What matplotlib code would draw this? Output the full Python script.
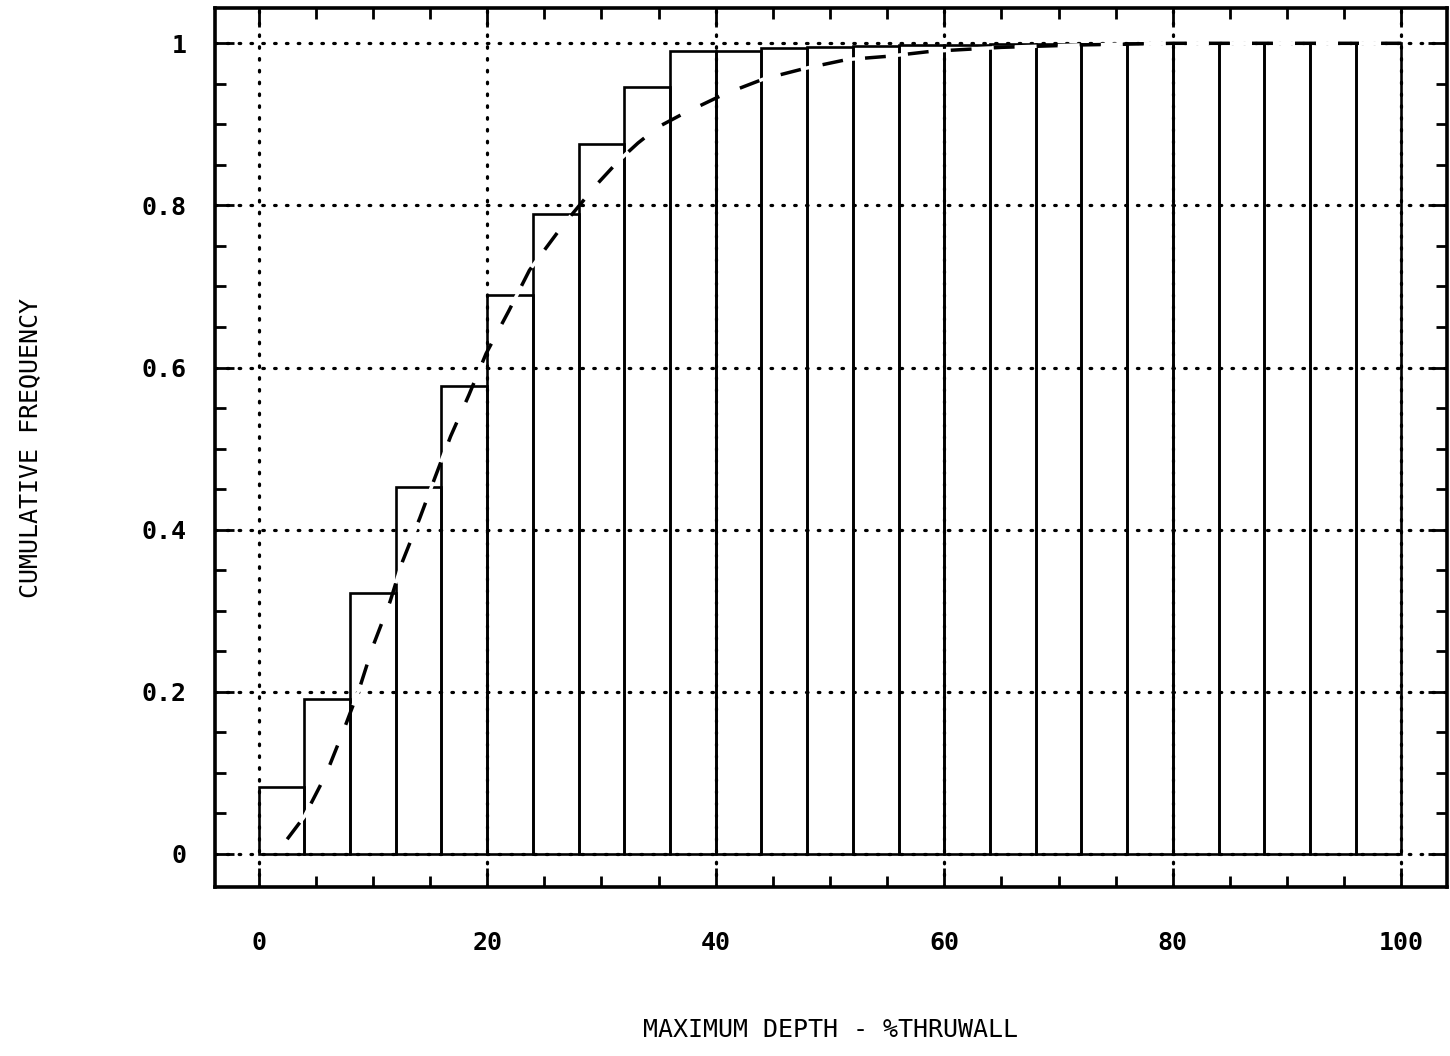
import matplotlib
matplotlib.use("Agg")
import matplotlib.pyplot as plt
from matplotlib.ticker import MultipleLocator

# histogram of cumulative frequency, bins 4 wide
bin_left = [0, 4, 8, 12, 16, 20, 24, 28, 32, 36, 40, 44, 48,
            52, 56, 60, 64, 68, 72, 76, 80, 84, 88, 92, 96]
bin_width = 4
cum_freq = [0.082, 0.191, 0.322, 0.453, 0.577, 0.689, 0.790, 0.876, 0.946,
            0.990, 0.991, 0.994, 0.995, 0.997, 0.998, 0.998, 0.999, 0.999,
            0.999, 1.0, 1.0, 1.0, 1.0, 1.0, 1.0]

# fitted curve (dashed)
fit_x = [2.5, 4.0, 5.9, 7.4, 8.8, 10.0, 11.5, 12.6, 14.1, 15.4, 16.8, 18.4,
         19.9, 21.9, 23.7, 26.6, 29.6, 31.5, 33.2, 35.0, 37.0, 40.7, 44.2,
         47.8, 51.5, 55.1, 58.8, 65.0, 72.0, 80.0, 100.0]
fit_y = [0.018, 0.046, 0.098, 0.151, 0.203, 0.256, 0.311, 0.361, 0.414,
         0.463, 0.515, 0.566, 0.617, 0.670, 0.720, 0.775, 0.826, 0.855,
         0.877, 0.897, 0.912, 0.937, 0.956, 0.969, 0.980, 0.984, 0.990,
         0.995, 0.998, 1.0, 1.0]

xticks = [0, 20, 40, 60, 80, 100]
yticks = [0, 0.2, 0.4, 0.6, 0.8, 1.0]
ytick_labels = ["0", "0.2", "0.4", "0.6", "0.8", "1"]

mono = "DejaVu Sans Mono"

fig = plt.figure(figsize=(14.5, 10.56), dpi=100)
ax = fig.add_axes([0.148, 0.160, 0.850, 0.832])

ax.grid(True, which="major", color="black", linestyle=(0, (0.5, 3.2)),
        linewidth=2.3, dash_capstyle="round")
ax.set_axisbelow(True)

ax.bar(bin_left, cum_freq, width=bin_width, align="edge", fill=False,
       edgecolor="black", linewidth=1.9, zorder=2)

ax.plot(fit_x, fit_y, color="black", linewidth=2.5,
        linestyle=(0, (6, 6.4)), gapcolor="white", zorder=3)

ax.set_xlim(-3.85, 104.0)
ax.set_ylim(-0.041, 1.043)

ax.set_xticks(xticks)
ax.set_xticklabels([str(v) for v in xticks])
ax.set_yticks(yticks)
ax.set_yticklabels(ytick_labels)
ax.xaxis.set_minor_locator(MultipleLocator(5))
ax.yaxis.set_minor_locator(MultipleLocator(0.05))

ax.tick_params(which="both", direction="in", top=True, right=True,
               width=2.0, color="black")
ax.tick_params(which="major", length=14)
ax.tick_params(which="minor", length=8)
ax.tick_params(axis="x", which="major", pad=32)
ax.tick_params(axis="y", which="major", pad=20)

for lab in ax.get_xticklabels() + ax.get_yticklabels():
    lab.set_fontfamily(mono)
    lab.set_fontweight("bold")
    lab.set_fontsize(18)

for sp in ax.spines.values():
    sp.set_linewidth(2.6)

ax.set_xlabel("MAXIMUM DEPTH - %THRUWALL", fontfamily=mono, fontsize=18,
              labelpad=45)
ax.set_ylabel("CUMULATIVE FREQUENCY", fontfamily=mono, fontsize=18,
              labelpad=72)

fig.savefig("out.png", dpi=100)
